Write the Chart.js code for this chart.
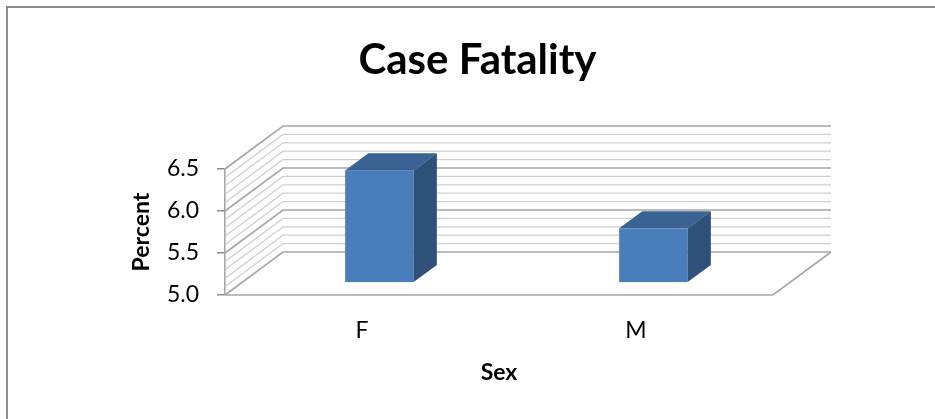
<!DOCTYPE html>
<html>
<head>
<meta charset="utf-8">
<script src="https://cdn.jsdelivr.net/npm/chart.js@4.4.1/dist/chart.umd.min.js"></script>
<style>
  html, body { margin: 0; padding: 0; background: #ffffff; }
  #wrap { width: 935px; height: 419px; position: relative; }
</style>
</head>
<body>
<div id="wrap"><canvas id="c" width="935" height="419"></canvas></div>
<script>
// ---- data ----
const categories = ['F', 'M'];
const caseFatality = [6.33, 5.64];
const yTicks = [5.0, 5.5, 6.0, 6.5];
const minorTicks = [5.0, 5.1, 5.2, 5.3, 5.4, 5.5, 5.6, 5.7, 5.8, 5.9, 6.0, 6.1, 6.2, 6.3, 6.4, 6.5];
const chartTitle = 'Case Fatality';
const xTitle = 'Sex';
const yTitle = 'Percent';

// ---- 3D styling ----
const DEPTH_X = 58, DEPTH_Y = -43;   // depth vector of the plot box
const BAR_FRONT = 0.3, BAR_DEPTH = 0.4;
const FONT = 'Lato, "Open Sans", "Liberation Sans", sans-serif';

const threeD = {
  id: 'threeD',
  beforeDraw(chart) {
    const ctx = chart.ctx;
    ctx.save();
    ctx.fillStyle = '#ffffff';
    ctx.fillRect(0, 0, chart.width, chart.height);
    ctx.strokeStyle = '#8c8c8c';
    ctx.lineWidth = 2;
    ctx.strokeRect(7, 7, chart.width + 20, chart.height + 20);
    ctx.restore();
  },
  beforeDatasetsDraw(chart) {
    const ctx = chart.ctx;
    const y = chart.scales.y;
    const a = chart.chartArea;
    ctx.save();
    minorTicks.forEach(v => {
      const py = y.getPixelForValue(v);
      const major = yTicks.some(t => Math.abs(t - v) < 1e-6);
      ctx.strokeStyle = major ? '#a6a6a6' : '#cfcfcf';
      ctx.lineWidth = major ? 1.6 : 1.3;
      ctx.beginPath();
      ctx.moveTo(a.left, py);
      ctx.lineTo(a.left + DEPTH_X, py + DEPTH_Y);
      ctx.lineTo(a.right + DEPTH_X, py + DEPTH_Y);
      ctx.stroke();
    });
    const base = y.getPixelForValue(y.min);
    ctx.strokeStyle = '#a6a6a6';
    ctx.lineWidth = 1.6;
    ctx.beginPath();
    ctx.moveTo(a.left, base);
    ctx.lineTo(a.right, base);
    ctx.lineTo(a.right + DEPTH_X, base + DEPTH_Y);
    ctx.stroke();
    ctx.restore();
  },
  afterDatasetsDraw(chart) {
    const ctx = chart.ctx;
    const y = chart.scales.y;
    const floor = y.getPixelForValue(y.min);
    const meta = chart.getDatasetMeta(0);
    ctx.save();
    meta.data.forEach(el => {
      const p = el.getProps(['x', 'y', 'base', 'width'], true);
      const ox = BAR_FRONT * DEPTH_X, oy = BAR_FRONT * DEPTH_Y;
      const dx = BAR_DEPTH * DEPTH_X, dy = BAR_DEPTH * DEPTH_Y;
      const x0 = p.x - p.width / 2 + ox, x1 = p.x + p.width / 2 + ox;
      const yt = p.y + oy, yb = Math.min(p.base, floor) + oy;
      ctx.fillStyle = '#4a7ebb';
      ctx.fillRect(x0, yt, x1 - x0, yb - yt);
      ctx.fillStyle = '#3a6393';
      ctx.beginPath();
      ctx.moveTo(x0, yt); ctx.lineTo(x1, yt); ctx.lineTo(x1 + dx, yt + dy); ctx.lineTo(x0 + dx, yt + dy);
      ctx.closePath(); ctx.fill();
      ctx.fillStyle = '#2f5079';
      ctx.beginPath();
      ctx.moveTo(x1, yt); ctx.lineTo(x1 + dx, yt + dy); ctx.lineTo(x1 + dx, yb + dy); ctx.lineTo(x1, yb);
      ctx.closePath(); ctx.fill();
    });
    ctx.restore();
  }
};

new Chart(document.getElementById('c'), {
  type: 'bar',
  data: {
    labels: categories,
    datasets: [{
      label: 'Case Fatality',
      data: caseFatality,
      backgroundColor: 'rgba(0,0,0,0)',
      borderWidth: 0,
      barPercentage: 0.25,
      categoryPercentage: 1.0
    }]
  },
  options: {
    responsive: false,
    animation: false,
    devicePixelRatio: 1,
    layout: { padding: { left: 20, right: 0, top: 0, bottom: 0 } },
    plugins: {
      legend: { display: false },
      tooltip: { enabled: false },
      title: {
        display: true,
        text: chartTitle,
        color: '#000000',
        font: { family: FONT, size: 42, weight: 'bold', lineHeight: 1.2 },
        padding: { top: 35, bottom: 83.6 }
      }
    },
    scales: {
      x: {
        position: 'bottom',
        grid: { display: false, drawTicks: false },
        border: { display: false },
        ticks: { color: '#000000', font: { family: FONT, size: 23 }, padding: 22 },
        title: {
          display: true, text: xTitle, color: '#000000',
          font: { family: FONT, size: 23, weight: 'bold', lineHeight: 1.2 },
          padding: { top: 0, bottom: 33 }
        },
        afterFit(s) { s.height = 124; }
      },
      y: {
        position: 'left',
        min: 5.0, max: 6.5,
        afterBuildTicks(s) { s.ticks = yTicks.map(v => ({ value: v })); },
        grid: { display: true, drawOnChartArea: false, drawTicks: true, tickLength: 8, color: '#8c8c8c', lineWidth: 1.5 },
        border: { display: true, color: '#a6a6a6', width: 1.6 },
        ticks: {
          color: '#000000', font: { family: FONT, size: 23 }, padding: 18,
          callback: v => Number(v).toFixed(1)
        },
        title: {
          display: true, text: yTitle, color: '#000000',
          font: { family: FONT, size: 23, weight: 'bold', lineHeight: 1.2 },
          padding: { top: 108, bottom: 0 }
        },
        afterFit(s) { s.width = 205; }
      },
      yR: {
        position: 'right',
        display: true,
        min: 5.0, max: 6.5,
        grid: { display: false, drawTicks: false },
        border: { display: false },
        ticks: { display: false },
        afterFit(s) { s.width = 162; }
      }
    }
  },
  plugins: [threeD]
});
</script>
</body>
</html>
